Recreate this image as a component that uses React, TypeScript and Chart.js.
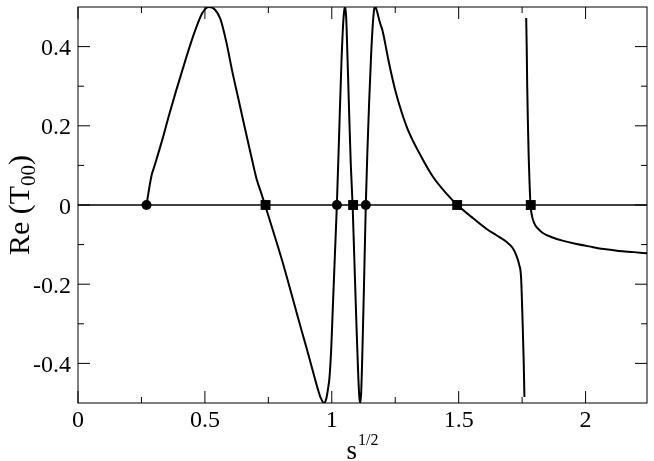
import React, { useEffect, useRef } from "react";
import { Chart, registerables } from "chart.js";
Chart.register(...registerables);

// Main branch of Re(T00) (left of the pole near 1.76)
const curveAX = [0.27, 0.28, 0.29, 0.301, 0.33, 0.36, 0.385, 0.411, 0.44, 0.464, 0.49, 0.516, 0.54, 0.561, 0.585, 0.607, 0.633, 0.659, 0.682, 0.704, 0.722, 0.737, 0.77, 0.802, 0.835, 0.867, 0.9, 0.932, 0.945, 0.955, 0.969, 0.978, 0.985, 0.991, 0.998, 1.004, 1.012, 1.02, 1.03, 1.038, 1.045, 1.05, 1.053, 1.057, 1.062, 1.069, 1.075, 1.082, 1.089, 1.096, 1.103, 1.108, 1.112, 1.116, 1.121, 1.127, 1.134, 1.14, 1.147, 1.155, 1.162, 1.167, 1.17, 1.175, 1.182, 1.19, 1.2, 1.225, 1.25, 1.275, 1.3, 1.35, 1.4, 1.45, 1.495, 1.55, 1.609, 1.65, 1.688, 1.712, 1.727, 1.738, 1.746, 1.752, 1.756, 1.759];
const curveAY = [0, 0.04, 0.075, 0.098, 0.16, 0.23, 0.285, 0.34, 0.4, 0.445, 0.485, 0.5, 0.493, 0.47, 0.41, 0.34, 0.265, 0.19, 0.125, 0.065, 0.03, 0, -0.068, -0.135, -0.21, -0.285, -0.36, -0.435, -0.465, -0.485, -0.5, -0.49, -0.465, -0.435, -0.36, -0.26, -0.13, 0, 0.2, 0.36, 0.46, 0.495, 0.5, 0.47, 0.37, 0.22, 0.1, 0, -0.14, -0.28, -0.41, -0.48, -0.5, -0.47, -0.36, -0.2, 0, 0.13, 0.257, 0.38, 0.46, 0.494, 0.5, 0.496, 0.48, 0.46, 0.44, 0.36, 0.29, 0.235, 0.19, 0.125, 0.07, 0.03, 0, -0.03, -0.06, -0.077, -0.093, -0.108, -0.127, -0.15, -0.185, -0.3, -0.39, -0.485];

// Branch right of the pole
const curveBX = [1.766, 1.768, 1.77, 1.773, 1.776, 1.779, 1.783, 1.788, 1.797, 1.81, 1.83, 1.87, 1.909, 1.96, 2.026, 2.08, 2.13, 2.19, 2.242];
const curveBY = [0.472, 0.4, 0.3, 0.2, 0.12, 0.06, 0, -0.025, -0.045, -0.058, -0.07, -0.082, -0.09, -0.098, -0.106, -0.112, -0.116, -0.119, -0.122];

const circleX = [0.27, 1.02, 1.134];
const squareX = [0.739, 1.084, 1.494, 1.784];
const zeroLineX = [0, 2.242];

const xMajorTicks = [0, 0.5, 1, 1.5, 2];
const xMinorTicks = [0.25, 0.75, 1.25, 1.75];
const yMajorTicks = [-0.4, -0.2, 0, 0.2, 0.4];
const yMinorTicks = [-0.3, -0.1, 0.1, 0.3];
const xTickLabels = ["0", "0.5", "1", "1.5", "2"];
const yTickLabels = ["-0.4", "-0.2", "0", "0.2", "0.4"];

const X_MIN = 0;
const X_MAX = 2.242;
const Y_MIN = -0.5;
const Y_MAX = 0.5;

const FONT = "'Liberation Serif', 'Times New Roman', serif";

const framePlugin = {
  id: "frame",
  afterDatasetsDraw(chart: any) {
    const { ctx, chartArea, scales } = chart;
    const { left, right, top, bottom } = chartArea;
    const x = scales.x;
    const y = scales.y;
    ctx.save();
    ctx.strokeStyle = "#000";
    ctx.lineWidth = 1;
    const line = (x1: number, y1: number, x2: number, y2: number) => {
      ctx.beginPath();
      ctx.moveTo(x1, y1);
      ctx.lineTo(x2, y2);
      ctx.stroke();
    };
    ctx.strokeRect(left, top, right - left, bottom - top);
    const MAJ = 12;
    const MIN = 6;
    xMajorTicks.forEach((v) => {
      const p = x.getPixelForValue(v);
      line(p, bottom, p, bottom - MAJ);
      line(p, top, p, top + MAJ);
    });
    xMinorTicks.forEach((v) => {
      const p = x.getPixelForValue(v);
      line(p, bottom, p, bottom - MIN);
      line(p, top, p, top + MIN);
    });
    yMajorTicks.forEach((v) => {
      const p = y.getPixelForValue(v);
      line(left, p, left + MAJ, p);
      line(right, p, right - MAJ, p);
    });
    yMinorTicks.forEach((v) => {
      const p = y.getPixelForValue(v);
      line(left, p, left + MIN, p);
      line(right, p, right - MIN, p);
    });

    // tick labels
    ctx.fillStyle = "#000";
    ctx.font = `24px ${FONT}`;
    ctx.textBaseline = "alphabetic";
    ctx.textAlign = "right";
    yMajorTicks.forEach((v, i) => {
      const p = y.getPixelForValue(v);
      ctx.fillText(yTickLabels[i], left - 7, p + 8.5);
    });
    ctx.textAlign = "center";
    xMajorTicks.forEach((v, i) => {
      const p = x.getPixelForValue(v);
      ctx.fillText(xTickLabels[i], p, 427);
    });

    // axis titles
    ctx.textAlign = "left";
    // x title: s^{1/2}
    const cx = (left + right) / 2;
    ctx.font = `27px ${FONT}`;
    const sW = ctx.measureText("s").width;
    ctx.font = `16px ${FONT}`;
    const supW = ctx.measureText("1/2").width;
    const startX = cx - (sW + 1 + supW) / 2;
    ctx.font = `27px ${FONT}`;
    ctx.fillText("s", startX, 459);
    ctx.font = `16px ${FONT}`;
    ctx.fillText("1/2", startX + sW + 1, 445);

    // y title: Re (T_{00})
    const cy = (top + bottom) / 2;
    ctx.save();
    ctx.translate(29, cy);
    ctx.rotate(-Math.PI / 2);
    ctx.font = `30px ${FONT}`;
    const a = "Re (T";
    const aW = ctx.measureText(a).width;
    ctx.font = `21px ${FONT}`;
    const subW = ctx.measureText("00").width;
    ctx.font = `30px ${FONT}`;
    const cW = ctx.measureText(")").width;
    const total = aW + subW + cW;
    let px = -total / 2;
    ctx.fillText(a, px, 0);
    px += aW;
    ctx.font = `21px ${FONT}`;
    ctx.fillText("00", px, 6);
    px += subW;
    ctx.font = `30px ${FONT}`;
    ctx.fillText(")", px, 0);
    ctx.restore();

    ctx.restore();
  },
};

export default function App() {
  const ref = useRef<HTMLCanvasElement | null>(null);
  useEffect(() => {
    if (!ref.current) return;
    const toPts = (xs: number[], ys: number[]) => xs.map((v, i) => ({ x: v, y: ys[i] }));
    const chart = new Chart(ref.current, {
      type: "line",
      data: {
        datasets: [
          {
            data: circleX.map((v) => ({ x: v, y: 0 })),
            showLine: false,
            pointStyle: "circle",
            pointRadius: 5,
            pointBackgroundColor: "#000",
            pointBorderColor: "#000",
            pointBorderWidth: 0,
            order: 0,
          },
          {
            data: squareX.map((v) => ({ x: v, y: 0 })),
            showLine: false,
            pointStyle: "rect",
            pointRadius: 7,
            pointBackgroundColor: "#000",
            pointBorderColor: "#000",
            pointBorderWidth: 0,
            order: 0,
          },
          {
            data: toPts(curveAX, curveAY),
            borderColor: "#000",
            borderWidth: 2,
            pointRadius: 0,
            cubicInterpolationMode: "monotone",
            fill: false,
            order: 1,
          },
          {
            data: toPts(curveBX, curveBY),
            borderColor: "#000",
            borderWidth: 2,
            pointRadius: 0,
            cubicInterpolationMode: "monotone",
            fill: false,
            order: 1,
          },
          {
            data: zeroLineX.map((v) => ({ x: v, y: 0 })),
            borderColor: "#000",
            borderWidth: 1.5,
            pointRadius: 0,
            fill: false,
            order: 2,
          },
        ],
      },
      options: {
        animation: false,
        responsive: false,
        maintainAspectRatio: false,
        events: [],
        layout: { padding: { left: 0, right: 2, top: 3, bottom: 0 } },
        plugins: {
          legend: { display: false },
          tooltip: { enabled: false },
          title: { display: false },
        },
        scales: {
          x: {
            type: "linear",
            min: X_MIN,
            max: X_MAX,
            grid: { display: false, drawTicks: false },
            border: { display: false },
            ticks: { display: false },
            afterBuildTicks: (s: any) => {
              s.ticks = xMajorTicks.map((v) => ({ value: v }));
            },
            afterFit: (s: any) => {
              s.height = 58;
              s.paddingLeft = 0;
              s.paddingRight = 0;
            },
          },
          y: {
            type: "linear",
            min: Y_MIN,
            max: Y_MAX,
            grid: { display: false, drawTicks: false },
            border: { display: false },
            ticks: { display: false },
            afterBuildTicks: (s: any) => {
              s.ticks = yMajorTicks.map((v) => ({ value: v }));
            },
            afterFit: (s: any) => {
              s.width = 78;
              s.paddingTop = 0;
              s.paddingBottom = 0;
            },
          },
        },
      },
      plugins: [framePlugin],
    } as any);
    return () => chart.destroy();
  }, []);
  return (
    <div style={{ position: "absolute", left: 0, top: 0, width: 654, height: 461, background: "#fff" }}>
      <canvas ref={ref} width={654} height={461} style={{ display: "block" }} />
    </div>
  );
}
